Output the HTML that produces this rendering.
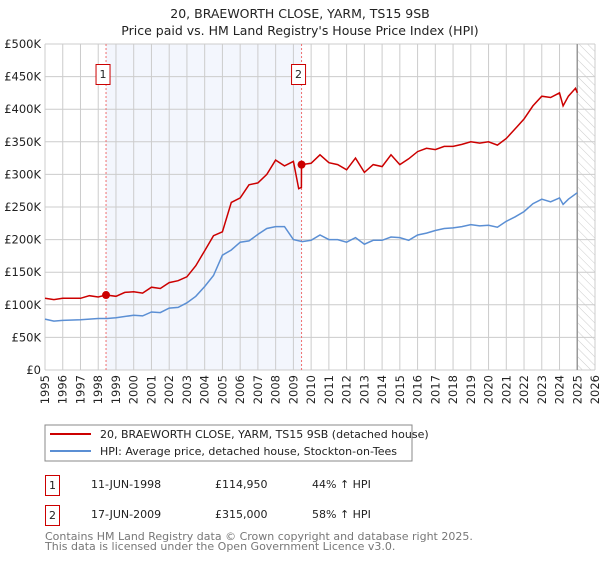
<!DOCTYPE html>
<html><head><meta charset="utf-8"><style>
body{margin:0;background:#fff;font-family:"DejaVu Sans","Liberation Sans",sans-serif;}
svg text{font-family:"DejaVu Sans","Liberation Sans",sans-serif;}
</style></head><body>
<svg id="chart" width="600" height="560" xmlns="http://www.w3.org/2000/svg">
<defs><pattern id="hatch" width="6" height="6" patternUnits="userSpaceOnUse" patternTransform="rotate(-45)"><line x1="0" y1="0" x2="0" y2="6" stroke="#ccc" stroke-width="1"/></pattern></defs>
<text x="300" y="18" text-anchor="middle" font-size="12.5" fill="#222">20, BRAEWORTH CLOSE, YARM, TS15 9SB</text>
<text x="300" y="35" text-anchor="middle" font-size="12.5" fill="#222">Price paid vs. HM Land Registry's House Price Index (HPI)</text>
<g id="plot"></g>
<rect x="45" y="425" width="367" height="36" fill="#fff" stroke="#888"/>
<line x1="50" y1="434" x2="91" y2="434" stroke="#cc0000" stroke-width="2"/>
<text x="100" y="438" font-size="11" fill="#222">20, BRAEWORTH CLOSE, YARM, TS15 9SB (detached house)</text>
<line x1="50" y1="451" x2="91" y2="451" stroke="#5b8fd4" stroke-width="2"/>
<text x="100" y="455" font-size="11" fill="#222">HPI: Average price, detached house, Stockton-on-Tees</text>
<rect x="45.5" y="475.5" width="14" height="20" fill="#fff" stroke="#cc0000"/>
<text x="52.5" y="489" font-size="11" text-anchor="middle" fill="#222">1</text>
<text x="91" y="488" font-size="11" fill="#222">11-JUN-1998</text>
<text x="215" y="488" font-size="11" fill="#222">£114,950</text>
<text x="312" y="488" font-size="11" fill="#222">44% ↑ HPI</text>
<rect x="45.5" y="505.5" width="14" height="20" fill="#fff" stroke="#cc0000"/>
<text x="52.5" y="519" font-size="11" text-anchor="middle" fill="#222">2</text>
<text x="91" y="518" font-size="11" fill="#222">17-JUN-2009</text>
<text x="215" y="518" font-size="11" fill="#222">£315,000</text>
<text x="312" y="518" font-size="11" fill="#222">58% ↑ HPI</text>
<text x="45" y="540" font-size="11" fill="#777">Contains HM Land Registry data © Crown copyright and database right 2025.</text>
<text x="45" y="550" font-size="11" fill="#777">This data is licensed under the Open Government Licence v3.0.</text>
</svg>
<script>
const yTicks=[0,50,100,150,200,250,300,350,400,450,500];
const yTickLabels=["£0","£50K","£100K","£150K","£200K","£250K","£300K","£350K","£400K","£450K","£500K"];
const xYears=[1995,1996,1997,1998,1999,2000,2001,2002,2003,2004,2005,2006,2007,2008,2009,2010,2011,2012,2013,2014,2015,2016,2017,2018,2019,2020,2021,2022,2023,2024,2025,2026];
const hpiT=[1995,1995.5,1996,1997,1998,1998.5,1999,2000,2000.5,2001,2001.5,2002,2002.5,2003,2003.5,2004,2004.5,2005,2005.5,2006,2006.5,2007,2007.5,2008,2008.5,2009,2009.5,2010,2010.5,2011,2011.5,2012,2012.5,2013,2013.5,2014,2014.5,2015,2015.5,2016,2016.5,2017,2017.5,2018,2018.5,2019,2019.5,2020,2020.5,2021,2021.5,2022,2022.5,2023,2023.5,2024,2024.2,2024.5,2025];
const hpiV=[78,75,76,77,79,79,80,84,83,89,88,95,96,103,113,128,145,176,184,196,198,208,217,220,220,200,197,199,207,200,200,196,203,193,199,199,204,203,199,207,210,214,217,218,220,223,221,222,219,228,235,243,255,262,258,264,254,262,272];
const propT=[1995,1995.5,1996,1997,1997.5,1998,1998.44,1999,1999.5,2000,2000.5,2001,2001.5,2002,2002.5,2003,2003.5,2004,2004.5,2005,2005.5,2006,2006.5,2007,2007.5,2008,2008.5,2009,2009.3,2009.45,2009.46,2010,2010.5,2011,2011.5,2012,2012.5,2013,2013.5,2014,2014.5,2015,2015.5,2016,2016.5,2017,2017.5,2018,2018.5,2019,2019.5,2020,2020.5,2021,2021.5,2022,2022.5,2023,2023.5,2024,2024.2,2024.5,2024.9,2025];
const propV=[110,108,110,110,114,112,115,113,119,120,118,127,125,134,137,143,160,183,206,212,257,264,284,287,300,322,313,320,278,280,315,317,330,318,315,307,325,303,315,312,330,315,324,335,340,338,343,343,346,350,348,350,345,355,370,385,405,420,418,425,405,420,432,425];
const saleT=[1998.44,2009.46];
const saleV=[114.95,315];
const saleLabels=["1","2"];
const dataEnd=2025.0;

const L=45,R=595,T=44,B=370;
const x=t=>L+(t-1995)/(2026-1995)*(R-L);
const y=v=>B-v/500*(B-T);
const NS="http://www.w3.org/2000/svg";
const g=document.getElementById('plot');
function mk(tag,attrs){const e=document.createElementNS(NS,tag);for(const k in attrs)e.setAttribute(k,attrs[k]);g.appendChild(e);return e;}
let e;
e=mk('rect',{x:x(saleT[0]),y:T,width:x(saleT[1])-x(saleT[0]),height:B-T,fill:'#eef2fc',opacity:0.7});


e=mk('rect',{x:x(dataEnd),y:T,width:R-x(dataEnd),height:B-T,fill:'url(#hatch)'});


xYears.forEach(yr=>{
  e=mk('line',{x1:x(yr),x2:x(yr),y1:T,y2:B,stroke:'#ccc','stroke-width':1});
  
  
  e=mk('text',{x:0,y:0,'font-size':11.5,fill:'#222','text-anchor':'end',transform:`translate(${x(yr)+4},${B+5}) rotate(-90)`});
  e.textContent=yr;
  
  
});
yTicks.forEach((v,i)=>{
  e=mk('line',{x1:L,x2:R,y1:y(v),y2:y(v),stroke:'#ccc','stroke-width':1});
  
  
  e=mk('text',{x:L-4,y:y(v)+4,'font-size':11.5,fill:'#222','text-anchor':'end'});
  e.textContent=yTickLabels[i];
  
  
});
e=mk('line',{x1:x(dataEnd),x2:x(dataEnd),y1:T,y2:B,stroke:'#999','stroke-width':1.5});


saleT.forEach((t,i)=>{
  e=mk('line',{x1:x(t),x2:x(t),y1:T,y2:B,stroke:'#f07070','stroke-dasharray':'2,2'});
  
  
});
function path(ts,vs){return ts.map((t,i)=>(i?'L':'M')+x(t).toFixed(1)+','+y(vs[i]).toFixed(1)).join('');}
e=mk('path',{d:path(hpiT,hpiV),fill:'none',stroke:'#5b8fd4','stroke-width':1.5});


e=mk('path',{d:path(propT,propV),fill:'none',stroke:'#cc0000','stroke-width':1.5});


saleT.forEach((t,i)=>{
  e=mk('circle',{cx:x(t),cy:y(saleV[i]),r:4,fill:'#cc0000'});
  
  
  e=mk('rect',{x:x(t)-10,y:64.5,width:14,height:20,fill:'#fff',stroke:'#cc0000'});
  
  
  e=mk('text',{x:x(t)-3,y:78,'font-size':11,fill:'#222','text-anchor':'middle'});
  e.textContent=saleLabels[i];
  
  
});
</script>
</body></html>
